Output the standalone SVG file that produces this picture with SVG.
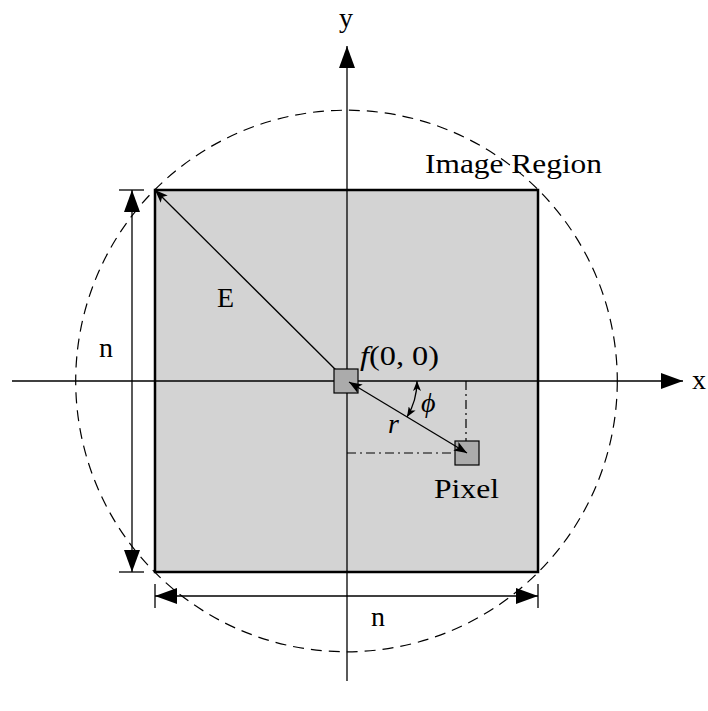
<svg xmlns="http://www.w3.org/2000/svg" width="708" height="711" viewBox="0 0 708 711">
<defs>
<style>
.txt{font-family:"Liberation Serif","DejaVu Serif",serif;font-size:28px;fill:#000}
.it{font-style:italic}
.ln{stroke:#000;stroke-width:1.3;fill:none}
.dd{stroke:#000;stroke-width:1.2;fill:none;stroke-dasharray:9 4 2 4}
.circ{stroke:#000;stroke-width:1.2;fill:none;stroke-dasharray:11 7}
</style>
<marker id="big" viewBox="0 0 22 16" refX="22" refY="8" markerWidth="22" markerHeight="16" markerUnits="userSpaceOnUse" orient="auto-start-reverse">
<path d="M0,0 L22,8 L0,16 z" fill="#000"/>
</marker>
<marker id="sm" viewBox="0 0 13 10" refX="13" refY="5" markerWidth="13" markerHeight="10" markerUnits="userSpaceOnUse" orient="auto-start-reverse">
<path d="M0,0 L13,5 L0,10 L3,5 z" fill="#000"/>
</marker>
<marker id="xs" viewBox="0 0 10 8" refX="10" refY="4" markerWidth="10" markerHeight="8" markerUnits="userSpaceOnUse" orient="auto-start-reverse">
<path d="M0,0 L10,4 L0,8 L2.5,4 z" fill="#000"/>
</marker>
</defs>
<rect width="708" height="711" fill="#fff"/>

<g id="image-region">
<rect x="155" y="190" width="383" height="382" fill="#d3d3d3" stroke="#000" stroke-width="2.5"/>
</g>

<g id="circle">
<circle cx="346.5" cy="381" r="270.8" class="circ"/>
</g>

<g id="connectors">
<line x1="12" y1="381" x2="683" y2="381" class="ln" marker-end="url(#big)"/>
<line x1="347" y1="681" x2="347" y2="46" class="ln" marker-end="url(#big)"/>
<line x1="132" y1="190" x2="132" y2="572" class="ln" marker-start="url(#big)" marker-end="url(#big)"/>
<line x1="119" y1="190" x2="144" y2="190" class="ln"/>
<line x1="119" y1="572" x2="144" y2="572" class="ln"/>
<line x1="155" y1="596" x2="538" y2="596" class="ln" marker-start="url(#big)" marker-end="url(#big)"/>
<line x1="155" y1="584" x2="155" y2="608" class="ln"/>
<line x1="538" y1="584" x2="538" y2="608" class="ln"/>
<line x1="347" y1="381" x2="155" y2="190" class="ln" marker-end="url(#sm)"/>
<line x1="466" y1="381" x2="466" y2="453" class="dd"/>
<line x1="347" y1="453" x2="455" y2="453" class="dd"/>
<path d="M417,381 A70,70 0 0 1 407,417" class="ln" marker-start="url(#xs)" marker-end="url(#xs)"/>
</g>

<g id="center-pixel">
<rect x="334" y="369" width="24" height="24" fill="#ababab" stroke="#000" stroke-width="1.2"/>
</g>

<g id="pixel">
<rect x="455" y="441" width="24" height="24" fill="#ababab" stroke="#000" stroke-width="1.2"/>
</g>

<g id="r-connector">
<line x1="349" y1="382" x2="467" y2="453" class="ln" marker-start="url(#sm)" marker-end="url(#sm)"/>
</g>

<g id="labels">
<text x="346" y="27" class="txt" text-anchor="middle" font-size="30">y</text>
<text x="692" y="389" class="txt">x</text>
<text x="425" y="173" class="txt" textLength="177" lengthAdjust="spacingAndGlyphs">Image Region</text>
<text x="217" y="307" class="txt">E</text>
<text x="99" y="357" class="txt">n</text>
<text x="371" y="626" class="txt">n</text>
<text x="360" y="365" class="txt" textLength="79" lengthAdjust="spacingAndGlyphs"><tspan class="it">f</tspan>(0, 0)</text>
<text x="421" y="412" class="txt it">ϕ</text>
<text x="388" y="433" class="txt it">r</text>
<text x="434" y="498" class="txt" textLength="65" lengthAdjust="spacingAndGlyphs">Pixel</text>
</g>
</svg>
